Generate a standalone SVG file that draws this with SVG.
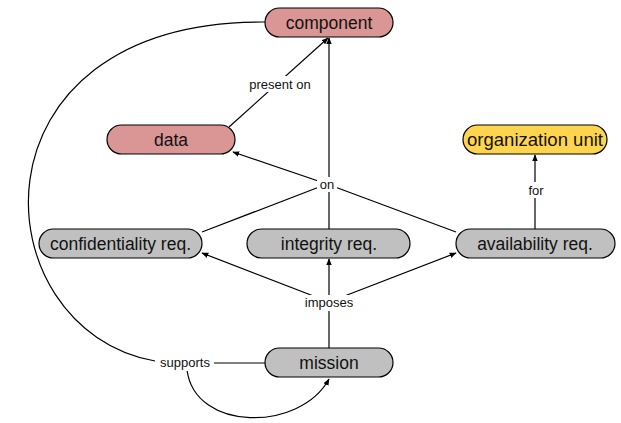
<svg xmlns="http://www.w3.org/2000/svg" width="621" height="423" viewBox="0 0 621 423">
<defs>
<style>
.n{stroke:#000;stroke-width:1.2}
.red{fill:#D99694}
.gray{fill:#C0C0C0}
.yel{fill:#FFD54F}
.t{font-family:"Liberation Sans",Arial,sans-serif;font-size:17.5px;text-anchor:middle;fill:#111}
.l{font-family:"Liberation Sans",Arial,sans-serif;font-size:13px;text-anchor:middle;fill:#111}
.c{fill:none;stroke:#000;stroke-width:1.2}
.bg{fill:#fff}
</style>
<marker id="a" viewBox="0 0 10 10" refX="9" refY="5" markerWidth="7" markerHeight="7" orient="auto-start-reverse" markerUnits="userSpaceOnUse"><path d="M0,1 L10,5 L0,9 z" fill="#000"/></marker>
</defs>
<rect width="621" height="423" fill="#fff"/>
<g id="connectors">
<path class="c" d="M155,361 C-20,330 -40,20 265,22"/>
<path class="c" d="M265,363 L185,363"/>
<path class="c" d="M187,370 C195,432 300,432 329,379" marker-end="url(#a)"/>
<path class="c" d="M229,127 L328,38" marker-end="url(#a)"/>
<path class="c" d="M329,229 L329,38" marker-end="url(#a)"/>
<path class="c" d="M202,232 L327,184"/>
<path class="c" d="M456,232 L327,184"/>
<path class="c" d="M327,184 L233,152" marker-end="url(#a)"/>
<path class="c" d="M329,349 L329,259" marker-end="url(#a)"/>
<path class="c" d="M329,302 L202,253" marker-end="url(#a)"/>
<path class="c" d="M329,302 L456,253" marker-end="url(#a)"/>
<path class="c" d="M535,229 L535,155" marker-end="url(#a)"/>
<rect class="bg" x="244" y="76" width="72" height="16"/>
<text class="l" x="280" y="89">present on</text>
<rect class="bg" x="317" y="177" width="20" height="15"/>
<text class="l" x="327" y="189">on</text>
<rect class="bg" x="300" y="295" width="58" height="16"/>
<text class="l" x="329" y="307">imposes</text>
<rect class="bg" x="156" y="355" width="58" height="16"/>
<text class="l" x="185" y="367">supports</text>
<rect class="bg" x="526" y="182" width="20" height="16"/>
<text class="l" x="536" y="195">for</text>
</g>
<g id="component"><rect class="n red" x="265" y="8" width="128" height="29" rx="14.5"/><text class="t" x="329" y="28.5">component</text></g>
<g id="data"><rect class="n red" x="107" y="125" width="128" height="29" rx="14.5"/><text class="t" x="171" y="145.5">data</text></g>
<g id="organization-unit"><rect class="n yel" x="463" y="125" width="144" height="29" rx="14.5"/><text class="t" x="535" y="145.5" textLength="136" lengthAdjust="spacingAndGlyphs">organization unit</text></g>
<g id="confidentiality-req"><rect class="n gray" x="39" y="229" width="163" height="29" rx="14.5"/><text class="t" x="120.5" y="249.5">confidentiality req.</text></g>
<g id="integrity-req"><rect class="n gray" x="247" y="229" width="163" height="29" rx="14.5"/><text class="t" x="329" y="249.5">integrity req.</text></g>
<g id="availability-req"><rect class="n gray" x="456" y="229" width="159" height="29" rx="14.5"/><text class="t" x="535" y="249.5">availability req.</text></g>
<g id="mission"><rect class="n gray" x="265" y="348" width="128" height="29" rx="14.5"/><text class="t" x="329" y="368.5">mission</text></g>
</svg>
